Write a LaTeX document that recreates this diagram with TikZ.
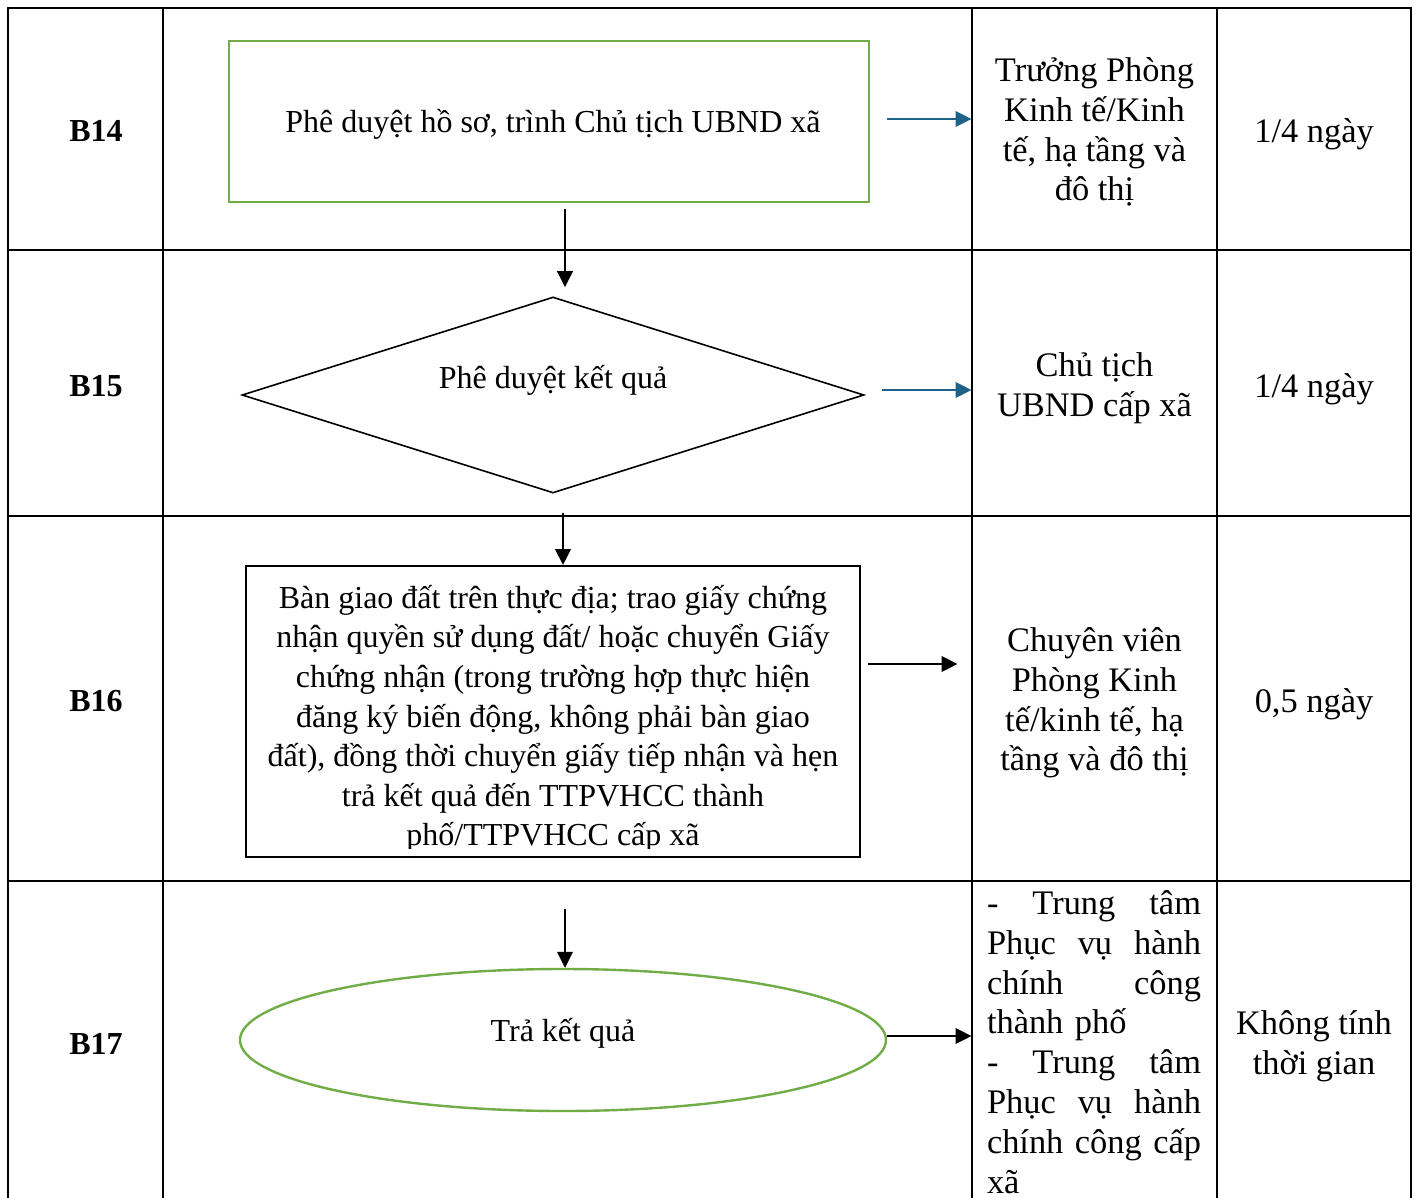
\documentclass[tikz,border=0pt]{standalone}
\usepackage{fontspec}
\setmainfont{Liberation Serif}
\usetikzlibrary{arrows.meta,shapes.geometric}
\definecolor{stepgreen}{RGB}{112,173,71}
\definecolor{linkteal}{RGB}{30,98,138}
\begin{document}
\begin{tikzpicture}[
  x=0.5pt,y=-0.5pt,line width=0.5pt,
  every node/.style={inner sep=0pt},
  body text/.style={font=\fontsize{16}{19.8}\selectfont,align=center},
  step label/.style={font=\fontsize{16}{19.8}\selectfont\bfseries},
  cell text/.style={font=\fontsize{17.2}{19.9}\selectfont,align=center},
  cell/.style={cell text,minimum width=122.5pt},
  grid line/.style={line width=1.1pt},
  flow/.style={-{Triangle[length=8pt,width=7.8pt]},line width=0.9pt},
  side flow/.style={flow,linkteal}
]
  \useasboundingbox (0,0) rectangle (1419,1198);

  % table grid, open at the bottom
  \draw[grid line] (8,1198) -- (8,8) -- (1411,8) -- (1411,1198);
  \foreach \x in {163,972,1217}
    \draw[grid line] (\x,8) -- (\x,1198);
  \foreach \y in {250,516,881}
    \draw[grid line] (8,\y) -- (1411,\y);

  \node[step label] (b14) at (96,131) {B14};
  \node[step label] (b15) at (96,386) {B15};
  \node[step label] (b16) at (96,701) {B16};
  \node[step label] (b17) at (96,1044) {B17};

  \node[draw=stepgreen,line width=1.3pt,
    minimum width=320pt,minimum height=80.5pt] (approve) at (549,121.5) {};
  \node[body text] (approve text) at (553,124.5)
    {Phê duyệt hồ sơ, trình Chủ tịch UBND xã};

  \node[diamond,draw,line width=0.8pt,
    minimum width=311pt,minimum height=98pt] (result) at (553,395) {};
  \node[body text] (result text) at (553,380.5) {Phê duyệt kết quả};

  \node[draw,line width=1pt,
    minimum width=307pt,minimum height=145.5pt] (handover) at (553,711.5) {};
  % the last line is cut off by the box
  \begin{scope}
    \clip (246,566) rectangle (860,848);
    \node[body text] (handover text) at (553,719)
      {Bàn giao đất trên thực địa; trao giấy chứng\\
       nhận quyền sử dụng đất/ hoặc chuyển Giấy\\
       chứng nhận (trong trường hợp thực hiện\\
       đăng ký biến động, không phải bàn giao\\
       đất), đồng thời chuyển giấy tiếp nhận và hẹn\\
       trả kết quả đến TTPVHCC thành\\
       phố/TTPVHCC cấp xã};
  \end{scope}

  \node[ellipse,draw=stepgreen,line width=1.2pt,
    minimum width=323pt,minimum height=71pt] (return) at (563,1040) {};
  \node[body text] (return text) at (563,1033) {Trả kết quả};

  \node[cell] (head) at (1094.5,132)
    {Trưởng Phòng\\Kinh tế/Kinh\\tế, hạ tầng và\\đô thị};
  \node[cell] (chair) at (1094.5,388) {Chủ tịch\\UBND cấp xã};
  \node[cell] (officer) at (1094.5,703)
    {Chuyên viên\\Phòng Kinh\\tế/kinh tế, hạ\\tầng và đô thị};
  \node[cell text,align=left,text width=107pt,inner xsep=7.5pt] (centre)
    at (1094,1042)
    {-\hfill Trung\hfill tâm\\
     Phục\hfill vụ\hfill hành\\
     chính\hfill công\\
     thành phố\\
     -\hfill Trung\hfill tâm\\
     Phục\hfill vụ\hfill hành\\
     chính\hfill công\hfill cấp\\
     xã};

  \node[cell text] (time14) at (1314,134) {1/4 ngày};
  \node[cell text] (time15) at (1314,389) {1/4 ngày};
  \node[cell text] (time16) at (1314,704) {0,5 ngày};
  \node[cell text] (time17) at (1314,1046) {Không tính\\thời gian};

  % downward flow
  \draw[flow] ([xshift=8pt,yshift=-3pt]approve.south)
    -- ([xshift=6pt,yshift=4.5pt]result.north);
  \draw[flow] ([xshift=5pt,yshift=-9.5pt]result.south)
    -- ([xshift=5pt]handover.north);
  \draw[flow] ([xshift=6pt,yshift=-25.5pt]handover.south)
    -- ([xshift=1pt]return.north);

  % arrows to the person in charge
  \coordinate (approve out) at ([xshift=8.5pt,yshift=1.25pt]approve.east);
  \coordinate (result out) at ([xshift=8.5pt,yshift=2.5pt]result.east);
  \coordinate (handover out) at ([xshift=3.5pt,yshift=23.75pt]handover.east);
  \coordinate (return out) at ([yshift=2pt]return.east);
  \draw[side flow] (approve out) -- (approve out -| head.west);
  \draw[side flow] (result out) -- (result out -| chair.west);
  \draw[flow,shorten >=7pt] (handover out) -- (handover out -| officer.west);
  \draw[flow] (return out) -- (return out -| centre.west);
\end{tikzpicture}
\end{document}
